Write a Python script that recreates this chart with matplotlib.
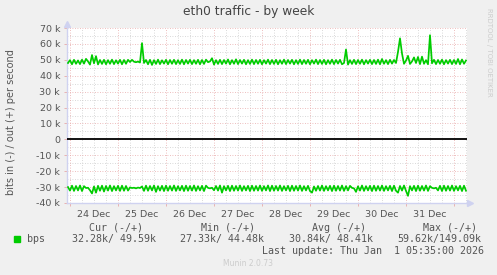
import numpy as np
import matplotlib
matplotlib.use("Agg")
import matplotlib.pyplot as plt

# hours relative to Tue 24 Dec 00:00, one sample per hour
start_hour = -1
out_k = [
    48.0, 49.8, 47.2, 50.0, 47.5, 49.6, 47.3, 50.1, 47.6, 50.6,
    49.0, 47.0, 53.0, 47.8, 52.3, 47.1, 49.9, 47.4, 50.0, 47.2,
    49.8, 47.5, 50.1, 47.3, 49.7, 47.6, 50.0, 47.2, 49.9, 47.5,
    50.0, 48.6, 50.0, 48.8, 48.5, 48.9, 48.3, 60.5, 48.0, 49.9,
    47.2, 50.0, 46.8, 49.8, 47.4, 50.1, 47.3, 49.7, 47.6, 50.0,
    47.2, 49.9, 47.5, 50.0, 47.3, 49.8, 47.4, 50.1, 47.2, 49.9,
    47.6, 50.0, 47.3, 49.8, 47.5, 50.0, 47.2, 49.9, 47.4, 50.1,
    48.5, 49.0, 51.0, 47.0, 49.8, 47.4, 50.0, 47.3, 49.9, 47.6,
    50.2, 47.2, 49.8, 47.5, 50.3, 47.3, 49.9, 47.6, 50.0, 47.2,
    49.8, 47.4, 50.1, 47.3, 49.9, 47.5, 50.0, 47.2, 49.8, 47.6,
    50.1, 47.3, 49.9, 47.4, 50.0, 47.2, 49.8, 47.5, 50.1, 47.3,
    49.9, 47.6, 50.0, 47.2, 49.8, 47.4, 50.1, 47.3, 49.9, 47.5,
    50.0, 47.2, 49.8, 47.6, 50.1, 47.3, 49.9, 47.4, 50.0, 47.2,
    49.8, 47.5, 50.1, 47.3, 49.9, 47.6, 50.0, 47.2, 48.0, 56.5,
    47.0, 49.8, 47.4, 50.0, 47.3, 49.9, 47.5, 50.1, 47.2, 49.8,
    47.6, 50.0, 47.3, 49.9, 47.4, 50.1, 47.2, 50.5, 47.5, 49.8,
    47.3, 50.0, 47.6, 49.9, 48.0, 55.0, 63.5, 54.0, 47.5, 49.5,
    52.5, 47.4, 49.0, 51.5, 48.0, 51.8, 47.3, 52.0, 47.5, 49.8,
    47.2, 65.5, 47.8, 50.0, 47.3, 49.9, 47.5, 50.1, 47.2, 49.8,
    47.6, 50.0, 47.3, 49.9, 47.4, 50.5, 47.2, 50.2, 47.5, 49.6,
]
in_k = [
    -30.0, -32.2, -29.1, -32.4, -29.3, -32.1, -29.0, -32.5, -29.4, -30.6,
    -30.4, -32.0, -34.0, -29.6, -33.5, -29.2, -32.3, -29.1, -32.8, -29.3,
    -32.2, -29.0, -32.5, -29.4, -32.1, -29.2, -32.4, -29.1, -32.3, -29.3,
    -32.2, -30.2, -30.6, -30.4, -30.8, -30.3, -30.6, -29.6, -32.4, -29.1,
    -32.3, -29.3, -32.1, -29.0, -33.0, -29.4, -32.2, -29.2, -32.5, -29.1,
    -32.3, -29.3, -32.2, -29.0, -32.4, -29.4, -32.1, -29.2, -32.5, -29.1,
    -32.3, -29.3, -32.2, -29.0, -32.4, -29.4, -32.1, -29.2, -32.5, -29.1,
    -30.5, -30.8, -30.4, -32.0, -29.3, -32.2, -29.0, -33.5, -29.4, -32.1,
    -29.2, -32.5, -29.1, -32.3, -29.3, -32.2, -29.0, -32.4, -29.4, -32.1,
    -29.2, -32.5, -29.1, -32.3, -29.3, -32.2, -29.0, -32.4, -29.4, -32.1,
    -29.0, -32.5, -29.1, -32.3, -29.3, -32.2, -29.0, -32.4, -29.4, -32.1,
    -29.2, -32.5, -29.1, -32.3, -29.3, -32.2, -29.0, -32.4, -29.4, -32.1,
    -29.2, -32.5, -33.5, -29.6, -32.3, -29.3, -32.2, -29.0, -32.4, -29.4,
    -32.1, -29.2, -32.5, -29.1, -32.3, -29.3, -32.2, -29.0, -32.4, -29.4,
    -32.1, -29.2, -30.5, -30.8, -33.0, -29.5, -32.2, -29.0, -32.4, -29.4,
    -32.1, -29.2, -32.5, -29.1, -32.3, -29.3, -32.2, -29.0, -32.4, -29.4,
    -32.1, -29.2, -32.5, -29.1, -32.3, -33.5, -29.3, -32.2, -29.0, -32.4,
    -35.5, -29.4, -32.1, -29.2, -32.5, -29.1, -32.3, -29.3, -32.2, -29.0,
    -32.4, -29.4, -30.5, -30.8, -30.4, -32.1, -29.2, -32.5, -29.1, -32.3,
    -29.3, -32.2, -29.0, -32.4, -29.4, -32.1, -29.2, -32.5, -29.1, -32.3,
]
day_labels = ["24 Dec", "25 Dec", "26 Dec", "27 Dec", "28 Dec", "29 Dec", "30 Dec", "31 Dec"]
y_ticks_k = [-40, -30, -20, -10, 0, 10, 20, 30, 40, 50, 60, 70]

legend_heads = ["Cur (-/+)", "Min (-/+)", "Avg (-/+)", "Max (-/+)"]
legend_vals = ["32.28k/ 49.59k", "27.33k/ 44.48k", "30.84k/ 48.41k", "59.62k/149.09k"]
last_update = "Last update: Thu Jan  1 05:35:00 2026"

W, H = 497, 275
BG = "#F0F0F0"
GREEN = "#00CC00"
TXT = "#555555"
MAJ = "#E8A8A8"
MIN = "#CCCCCC"
AXC = "#CFD2F0"

fig = plt.figure(figsize=(W / 100, H / 100), dpi=100, facecolor=BG)
x0, x1, ytop, ybot = 67, 467, 28, 203
ax = fig.add_axes([x0 / W, 1 - ybot / H, (x1 - x0) / W, (ybot - ytop) / H])
ax.set_facecolor("white")

hours = start_hour + np.arange(len(out_k))
ax.set_xlim(-1.5, 198.5)
ax.set_ylim(-40000, 70000)

# grid: minor every 6 h / 5 k, major every day / 10 k
for h in range(0, 199, 6):
    if h % 24:
        ax.axvline(h, color=MIN, lw=0.6, ls=(0, (1, 2)), zorder=1)
for v in range(-35000, 70000, 10000):
    ax.axhline(v, color=MIN, lw=0.6, ls=(0, (1, 2)), zorder=1)
for h in range(0, 199, 24):
    ax.axvline(h, color=MAJ, lw=0.6, ls=(0, (1, 2)), zorder=1)
for v in y_ticks_k:
    ax.axhline(v * 1000, color=MAJ, lw=0.6, ls=(0, (1, 2)), zorder=1)

ax.plot(hours, np.array(out_k) * 1000, color=GREEN, lw=1.25, zorder=3)
ax.plot(hours, np.array(in_k) * 1000, color=GREEN, lw=1.25, zorder=3)
ax.axhline(0, color="black", lw=1.3, zorder=4)

ax.set_yticks([v * 1000 for v in y_ticks_k])
ax.set_yticklabels([f"{v} k" if v else "0" for v in y_ticks_k])
ax.set_xticks([12 + 24 * i for i in range(len(day_labels))])
ax.set_xticklabels(day_labels)
ax.set_xticks(range(0, 199, 24), minor=True)
ax.tick_params(axis="x", which="major", length=0, pad=5, labelsize=6.8, labelcolor=TXT)
ax.tick_params(axis="x", which="minor", length=2.5, color=MAJ, width=0.6)
ax.tick_params(axis="y", length=2, color=MAJ, width=0.6, pad=3, labelsize=6.8, labelcolor=TXT)

for s in ("top", "right"):
    ax.spines[s].set_visible(False)
for s in ("left", "bottom"):
    ax.spines[s].set_color(AXC)
    ax.spines[s].set_linewidth(1.0)
ax.plot([0], [1.025], marker="^", color=AXC, ms=4, transform=ax.transAxes, clip_on=False)
ax.plot([1.008], [0], marker=">", color=AXC, ms=4, transform=ax.transAxes, clip_on=False)

fig.text(0.5, 1 - 12 / H, "eth0 traffic - by week", ha="center", va="center",
         fontsize=8.8, color="#444444")
fig.text(11 / W, 1 - 122 / H, "bits in (-) / out (+) per second", rotation=90,
         ha="center", va="center", fontsize=7, color=TXT)
fig.text(489 / W, 1 - 52 / H, "RRDTOOL / TOBI OETIKER", rotation=-90,
         ha="center", va="center", fontsize=5, color="#CCCCCC")

mono = dict(family="DejaVu Sans Mono", fontsize=7.2, color=TXT, va="center")
for x, t in zip([89, 201, 312, 423], legend_heads):
    fig.text(x / W, 1 - 228 / H, t, **mono)
for x, t in zip([72, 180, 289, 397], legend_vals):
    fig.text(x / W, 1 - 239 / H, t, **mono)
fig.text(27 / W, 1 - 239 / H, "bps", **mono)
fig.patches.append(plt.Rectangle((14 / W, 1 - 242 / H), 6 / W, 6 / H,
                                 transform=fig.transFigure, color=GREEN))
fig.text(262 / W, 1 - 251 / H, last_update, **mono)
fig.text(248 / W, 1 - 264 / H, "Munin 2.0.73", ha="center", va="center",
         fontsize=5.5, color="#CCCCCC")

fig.savefig("out.png", dpi=100, facecolor=BG)
